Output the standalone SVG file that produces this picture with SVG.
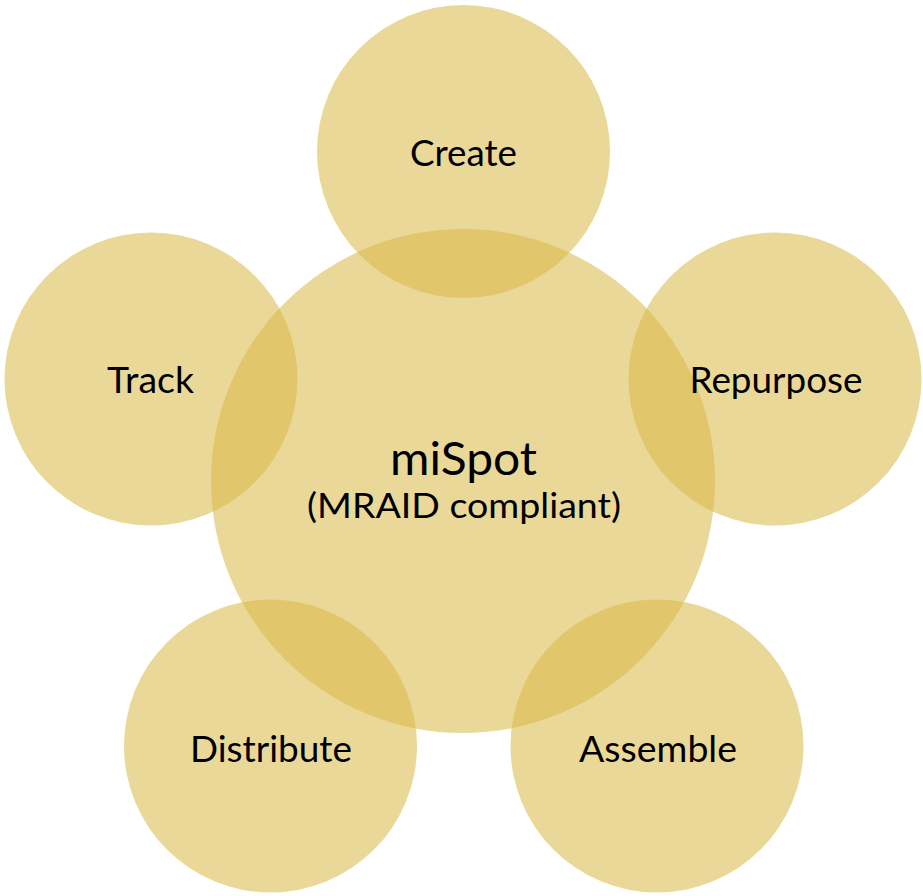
<svg xmlns="http://www.w3.org/2000/svg" width="923" height="896" viewBox="0 0 923 896">
<style>
.c{fill:#D8B845;fill-opacity:0.55}
.t{font-family:Lato,"Open Sans","Liberation Sans",sans-serif;font-size:37px;fill:#000;text-anchor:middle}
.m{font-size:46px}
.s{font-size:34px}
</style>
<rect width="923" height="896" fill="#fff"/>
<g id="node-mispot">
<circle class="c" cx="463" cy="481" r="252"/>
<text class="t m" x="463.5" y="475" textLength="147" lengthAdjust="spacingAndGlyphs">miSpot</text>
<text class="t s" x="464" y="518" textLength="314" lengthAdjust="spacingAndGlyphs">(MRAID compliant)</text>
</g>
<g id="node-create">
<circle class="c" cx="463.5" cy="151.5" r="146.5"/>
<text class="t" x="463.5" y="166" textLength="107" lengthAdjust="spacingAndGlyphs">Create</text>
</g>
<g id="node-repurpose">
<circle class="c" cx="775" cy="379" r="146.5"/>
<text class="t" x="776" y="393" textLength="173" lengthAdjust="spacingAndGlyphs">Repurpose</text>
</g>
<g id="node-assemble">
<circle class="c" cx="657" cy="746" r="146.5"/>
<text class="t" x="658" y="762" textLength="158" lengthAdjust="spacingAndGlyphs">Assemble</text>
</g>
<g id="node-distribute">
<circle class="c" cx="270.5" cy="746" r="146.5"/>
<text class="t" x="271" y="762" textLength="162" lengthAdjust="spacingAndGlyphs">Distribute</text>
</g>
<g id="node-track">
<circle class="c" cx="151" cy="379" r="146.5"/>
<text class="t" x="150.5" y="393" textLength="87" lengthAdjust="spacingAndGlyphs">Track</text>
</g>
</svg>
